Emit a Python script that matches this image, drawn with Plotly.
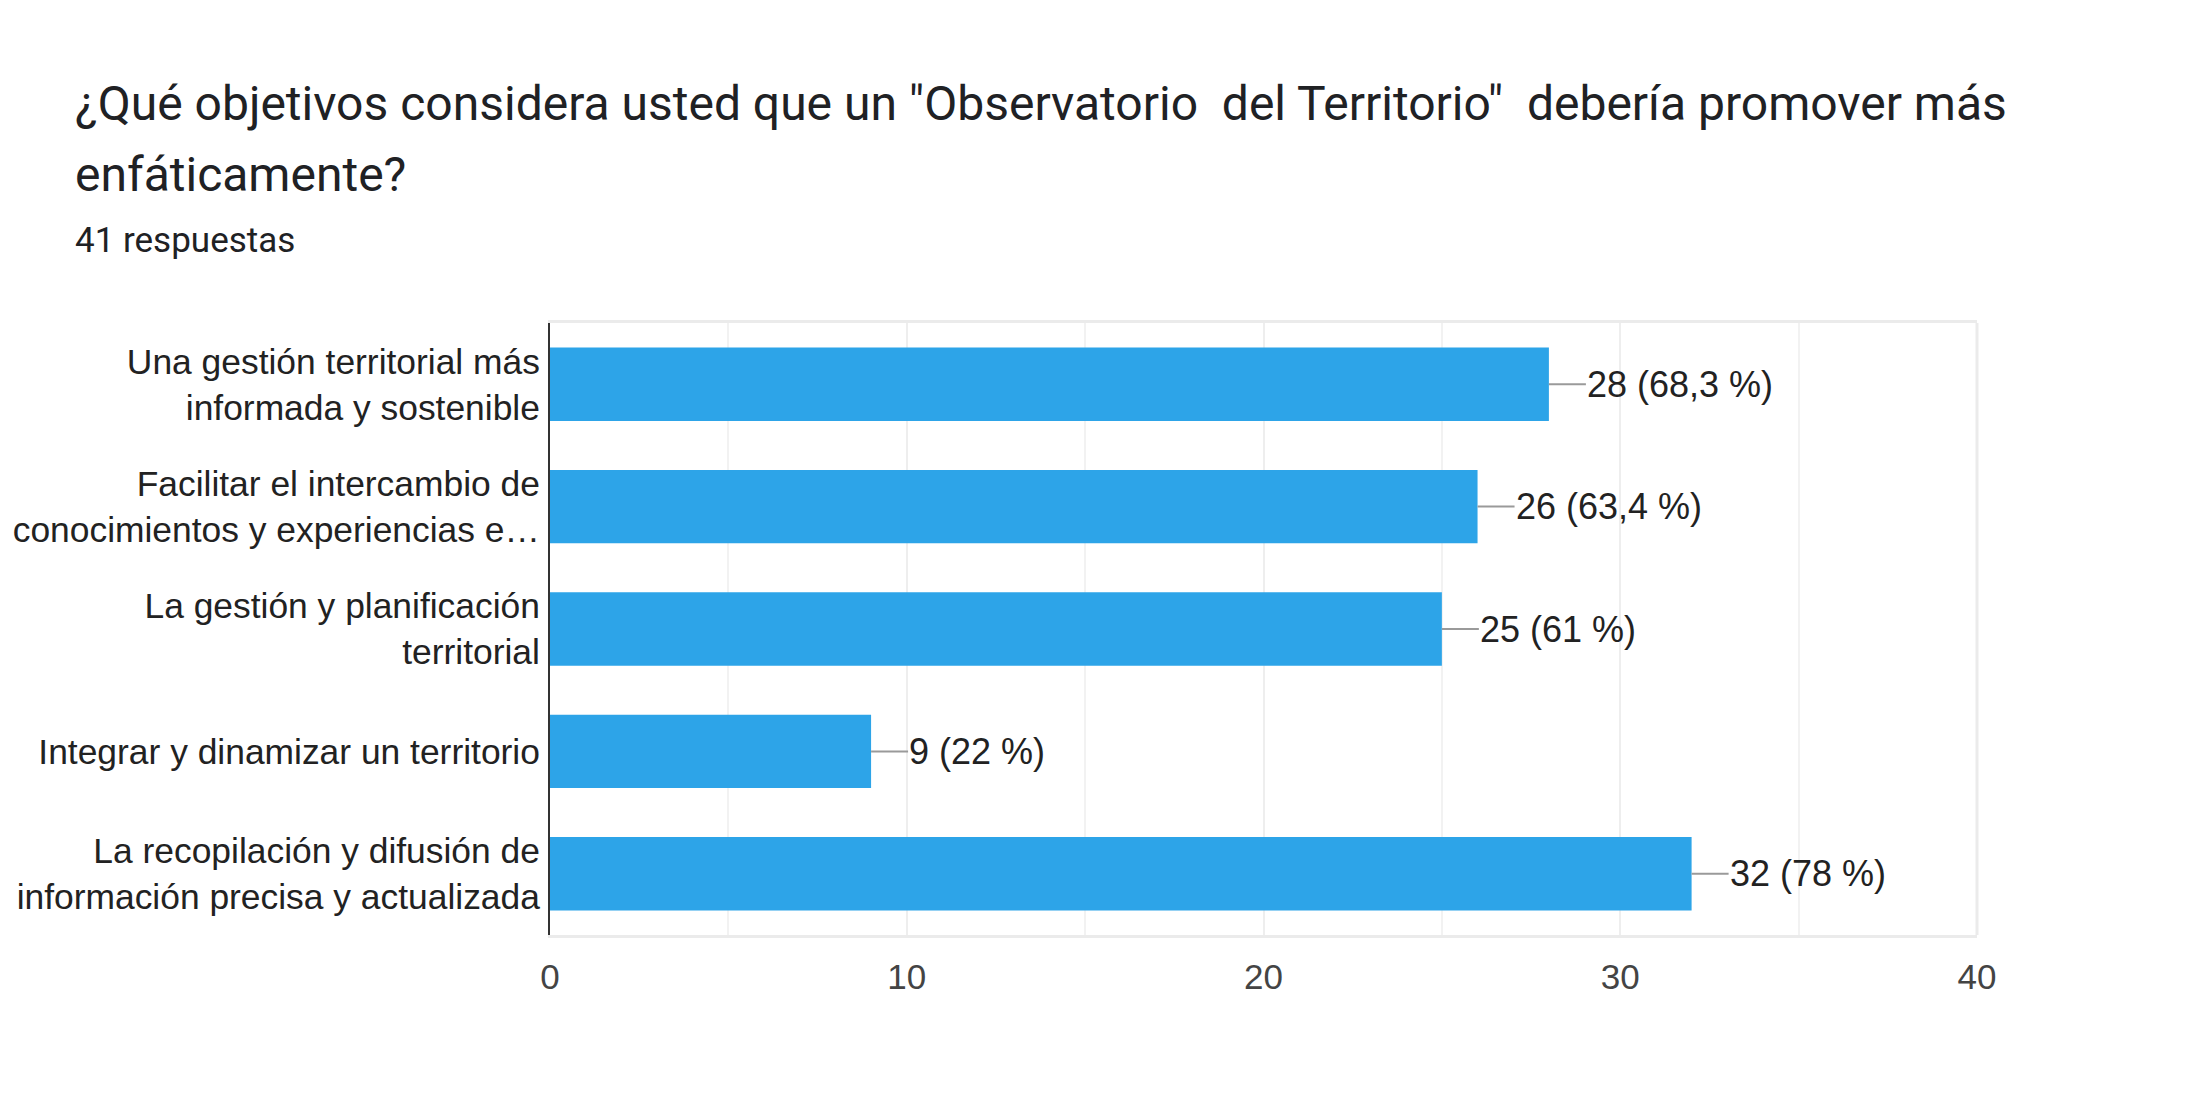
import plotly.graph_objects as go

categories = [
    "Una gestión territorial más<br>informada y sostenible",
    "Facilitar el intercambio de<br>conocimientos y experiencias e…",
    "La gestión y planificación<br>territorial",
    "Integrar y dinamizar un territorio",
    "La recopilación y difusión de<br>información precisa y actualizada",
]
counts = [28, 26, 25, 9, 32]
value_labels = ["28 (68,3 %)", "26 (63,4 %)", "25 (61 %)", "9 (22 %)", "32 (78 %)"]
x_ticks = [0, 10, 20, 30, 40]

title_line1 = "¿Qué objetivos considera usted que un \"Observatorio\u00a0 del Territorio\"\u00a0 debería promover más"
title_line2 = "enfáticamente?"
subtitle = "41 respuestas"

# page body has an 8px margin: figure coordinates = page coordinates - 8
OFF = 8
W, H = 2196, 1116
L, T = 550 - OFF, 323 - OFF
R = W - (1977 - OFF)
B = H - (935 - OFF)
plot_w = W - L - R
plot_h = H - T - B

CHART_FONT = "Liberation Sans, Arial, sans-serif"
TITLE_FONT = "Roboto, Arial, sans-serif"
BAR_COLOR = "#2da4e8"

fig = go.Figure()
fig.add_trace(go.Bar(
    x=counts,
    y=categories,
    orientation="h",
    marker=dict(color=BAR_COLOR, line=dict(width=0)),
    width=0.6,
    hoverinfo="skip",
))

annotations = []
for c, v, lab in zip(categories, counts, value_labels):
    annotations.append(dict(
        x=v, y=c, xref="x", yref="y",
        text=lab, showarrow=True, ax=37, ay=0,
        xanchor="left", yanchor="middle",
        arrowhead=0, arrowwidth=2, arrowcolor="#9a9a9a",
        standoff=0, startstandoff=0, borderpad=0,
        font=dict(family=CHART_FONT, size=36, color="#222222"),
    ))


def py(ypix):
    return 1 + (T - (ypix - OFF)) / plot_h


def px(xpix):
    return ((xpix - OFF) - L) / plot_w


annotations += [
    dict(x=px(73), y=py(104), xref="paper", yref="paper", text=title_line1,
         showarrow=False, xanchor="left", yanchor="middle",
         font=dict(family=TITLE_FONT, size=48, color="#202124")),
    dict(x=px(73), y=py(175), xref="paper", yref="paper", text=title_line2,
         showarrow=False, xanchor="left", yanchor="middle",
         font=dict(family=TITLE_FONT, size=48, color="#202124")),
    dict(x=px(73), y=py(240), xref="paper", yref="paper", text=subtitle,
         showarrow=False, xanchor="left", yanchor="middle",
         font=dict(family=TITLE_FONT, size=35, color="#202124")),
]

fig.update_layout(
    width=W, height=H,
    margin=dict(l=L, r=R, t=T, b=B, pad=0, autoexpand=False),
    paper_bgcolor="white",
    plot_bgcolor="white",
    showlegend=False,
    bargap=0.4,
    annotations=annotations,
    shapes=[
        dict(type="line", xref="paper", yref="paper", x0=1, x1=1, y0=0, y1=1,
             line=dict(color="#ebebeb", width=3), layer="below"),
    ],
    xaxis=dict(
        range=[0, 40],
        tickvals=x_ticks,
        ticktext=[str(t) for t in x_ticks],
        showgrid=True, gridcolor="#eeeeee", gridwidth=2,
        minor=dict(dtick=5, showgrid=True, gridcolor="#f2f2f2", gridwidth=2),
        showline=True, linecolor="#ebebeb", linewidth=3, mirror=True,
        zeroline=False,
        ticks="", ticklabelstandoff=9,
        tickfont=dict(family=CHART_FONT, size=35, color="#444444"),
        fixedrange=True, automargin=False,
    ),
    yaxis=dict(
        categoryorder="array",
        categoryarray=categories[::-1],
        showgrid=False,
        showline=True, linecolor="#333333", linewidth=2,
        zeroline=False,
        ticks="", ticklabelstandoff=1,
        tickfont=dict(family=CHART_FONT, size=35.4, color="#222222"),
        fixedrange=True, automargin=False,
    ),
)

fig.write_html("out.html")
